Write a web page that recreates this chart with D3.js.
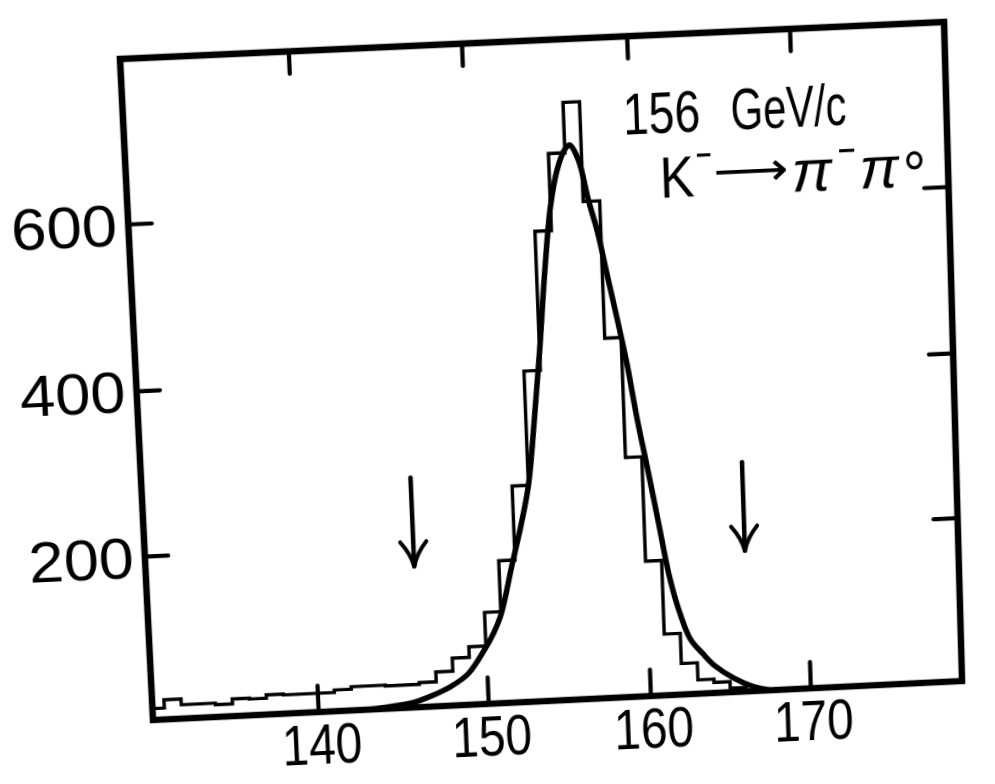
<!DOCTYPE html>
<html>
<head>
<meta charset="utf-8">
<title>K⁻ → π⁻π° at 156 GeV/c</title>
<script src="https://cdn.jsdelivr.net/npm/d3@7/dist/d3.min.js"></script>
<style>
  html, body { margin:0; padding:0; background:#fff; width:995px; height:784px; overflow:hidden; }
  #chart { position:absolute; left:0; top:0; transform-origin:0 0; }
  text { font-family: "Liberation Sans", Arial, sans-serif; fill:#000; }
</style>
</head>
<body>
<script>
// ---------------- data ----------------
const binStart = [130,131,132,133,134,135,136,137,138,139,140,141,142,143,144,145,146,147,148,149,
                  150,151,152,153,154,155,156,157,158,159,160,161,162,163,164,165,166];
const binCount = [14,24,17,17,15,21,20,24,23,23,23,26,29,29,28,28,30,42,58,71,
                  112,174,264,402,569,661,721,602,437,292,165,75,38,17,13,5,0];
const fitMomentum = [142.4,143.5,144.5,145.6,146.8,147.9,148.9,149.9,150.5,151.0,151.8,152.4,153.0,153.5,
                     154.0,154.5,155.0,155.5,156.0,156.3,156.8,157.3,157.8,158.3,158.8,159.3,159.8,160.35,
                     160.9,161.4,161.9,162.6,163.4,164.1,165.25,166.4,167.6];
const fitCount    = [0,1,3,6,14,24,38,66,86,108,168,212,264,340,
                     425,520,598,642,665,670,652,605,565,512,460,405,338,275,
                     210,150,108,68,48,33,17,6,0];
const xTickValues = [140,150,160,170];
const yTickValues = [200,400,600];
const cutMomentum = [146.0,166.2];
const cutArrowTop = [280,280];
const cutArrowTip = [172,172];
const beamLabel   = ["156","GeV/c"];
const decayTokens = ["K","−","⟶","π","−","π","°"];
const yDomain = [0,796];

// ---------------- layout / style ----------------
const W = 808, H = 662, M = 150;
// the scanned axis is slightly non-uniform: calibration knots (momentum -> px along the frame)
const xKnots  = [130.3,150,160,170,179.3];
const xKnotPx = [0,334,496,656,808];
// where the four frame corners land on the page (scan is slightly tilted)
const quad = [[120,59],[944,22],[962,681],[153,720]];

const svg = d3.select("body").append("svg")
  .attr("id","chart")
  .attr("width", W + 2*M).attr("height", H + 2*M);

// projective map of the drawing rectangle onto the tilted quad
(function(){
  const [[x0,y0],[x1,y1],[x2,y2],[x3,y3]] = quad;
  const dx1=x1-x2, dx2=x3-x2, dx3=x0-x1+x2-x3;
  const dy1=y1-y2, dy2=y3-y2, dy3=y0-y1+y2-y3;
  const den = dx1*dy2 - dx2*dy1;
  const g = (dx3*dy2 - dx2*dy3)/den;
  const h = (dx1*dy3 - dx3*dy1)/den;
  const a = x1-x0+g*x1, b = x3-x0+h*x3, c = x0;
  const d = y1-y0+g*y1, e = y3-y0+h*y3, f = y0;
  const k = 1 - g*M/W - h*M/H;
  const A = a/W/k, B = b/H/k, C = (c - a*M/W - b*M/H)/k;
  const D = d/W/k, E = e/H/k, F = (f - d*M/W - e*M/H)/k;
  const G = g/W/k, HH = h/H/k;
  svg.style("transform", `matrix3d(${A},${D},0,${G},${B},${E},0,${HH},0,0,1,0,${C},${F},0,1)`);
})();

const root = svg.append("g").attr("transform", `translate(${M},${M})`);

const x = d3.scaleLinear().domain(xKnots).range(xKnotPx);
const y = d3.scaleLinear().domain(yDomain).range([H, 0]);

const labelFont = 57;
const labelWidth = s => s.startsWith("1") ? 80 : 104;

root.append("clipPath").attr("id","frameClip")
  .append("rect").attr("x",0).attr("y",0).attr("width",W).attr("height",H);

// histogram (step outline)
const histPts = binStart.map((s,i)=>[s, binCount[i]]);
histPts.push([binStart[binStart.length-1]+1, 0]);
root.append("path")
  .attr("clip-path","url(#frameClip)")
  .attr("d", d3.line().x(d=>x(d[0])).y(d=>y(d[1])).curve(d3.curveStepAfter)(histPts))
  .attr("fill","none").attr("stroke","#000").attr("stroke-width",3.4).attr("stroke-linejoin","miter");

// fitted curve
root.append("path")
  .attr("clip-path","url(#frameClip)")
  .attr("d", d3.line().x((d,i)=>x(fitMomentum[i])).y((d,i)=>y(fitCount[i])).curve(d3.curveCatmullRom.alpha(0.5))(fitMomentum))
  .attr("fill","none").attr("stroke","#000").attr("stroke-width",5.5).attr("stroke-linecap","round");

// cut arrows
cutMomentum.forEach((m,i)=>{
  const ax = x(m), top = y(cutArrowTop[i]), tip = y(cutArrowTip[i]);
  const ga = root.append("g").attr("fill","none").attr("stroke","#000").attr("stroke-linecap","round");
  ga.append("line").attr("x1",ax).attr("y1",top).attr("x2",ax).attr("y2",tip).attr("stroke-width",4.5);
  ga.append("path").attr("transform",`translate(${ax},${tip})`)
    .attr("d","M-13,-25 Q-3,-13 0,0 Q3,-13 13,-25").attr("stroke-width",4);
});

// frame
root.append("rect").attr("x",0).attr("y",0).attr("width",W).attr("height",H)
  .attr("fill","none").attr("stroke","#000").attr("stroke-width",6.5);

function styleAxis(sel){
  sel.select(".domain").remove();
  sel.selectAll(".tick line").attr("stroke","#000").attr("stroke-width",4.2).attr("stroke-linecap","round");
  sel.attr("font-family",null).attr("font-size",null);
}

// bottom axis with labels
const gb = root.append("g").attr("transform",`translate(0,${H})`)
  .call(d3.axisBottom(x).tickValues(xTickValues).tickSizeInner(-27).tickSizeOuter(0).tickPadding(13).tickFormat(d3.format("d")));
styleAxis(gb);
gb.selectAll(".tick text").attr("font-size",labelFont).attr("dx",2)
  .attr("textLength",d=>labelWidth(String(d))).attr("lengthAdjust","spacingAndGlyphs");

// top axis (ticks only)
const gt = root.append("g")
  .call(d3.axisTop(x).tickValues(xTickValues).tickSizeInner(-22).tickSizeOuter(0).tickFormat(""));
styleAxis(gt);

// left axis with labels
const gl = root.append("g")
  .call(d3.axisLeft(y).tickValues(yTickValues).tickSizeInner(-23).tickSizeOuter(0).tickPadding(11).tickFormat(d3.format("d")));
styleAxis(gl);
gl.selectAll(".tick text").attr("font-size",labelFont).attr("dy","0.36em")
  .attr("textLength",d=>labelWidth(String(d))).attr("lengthAdjust","spacingAndGlyphs");

// right axis (ticks only)
const gr = root.append("g").attr("transform",`translate(${W},0)`)
  .call(d3.axisRight(y).tickValues(yTickValues).tickSizeInner(-24).tickSizeOuter(0).tickFormat(""));
styleAxis(gr);

// annotation: beam momentum
const beamAnchor = [x(159.6), y(679)];
const beamLayout = [{dx:0, size:58, len:76},{dx:106, size:58, len:114}];
beamLabel.forEach((t,i)=>{
  root.append("text").attr("x",beamAnchor[0]+beamLayout[i].dx).attr("y",beamAnchor[1])
    .attr("font-size",beamLayout[i].size).attr("textLength",beamLayout[i].len)
    .attr("lengthAdjust","spacingAndGlyphs").text(t);
});

// annotation: decay mode (each piece stretched to its width in the original lettering)
const decayAnchor = [beamAnchor[0]+34, beamAnchor[1]+64];
const decayLayout = [
  {dx:0,   dy:0,   size:58, len:34},
  {dx:36,  dy:-26, size:44, len:16},
  {dx:53,  dy:-8,  size:46, len:74, font:"DejaVu Sans"},
  {dx:130, dy:0,   size:58, len:40, italic:true},
  {dx:176, dy:-24, size:44, len:18},
  {dx:197, dy:0,   size:58, len:39, italic:true},
  {dx:240, dy:11,  size:66, len:23}
];
decayTokens.forEach((t,i)=>{
  const L = decayLayout[i];
  const tx = root.append("text")
    .attr("font-size",L.size)
    .attr("font-style", L.italic ? "italic" : null)
    .style("font-family", L.font ? `"${L.font}", sans-serif` : null)
    .text(t);
  const natural = tx.node().getComputedTextLength() || L.len;
  tx.attr("transform", `translate(${decayAnchor[0]+L.dx},${decayAnchor[1]+L.dy}) scale(${L.len/natural},1)`);
});
</script>
</body>
</html>
